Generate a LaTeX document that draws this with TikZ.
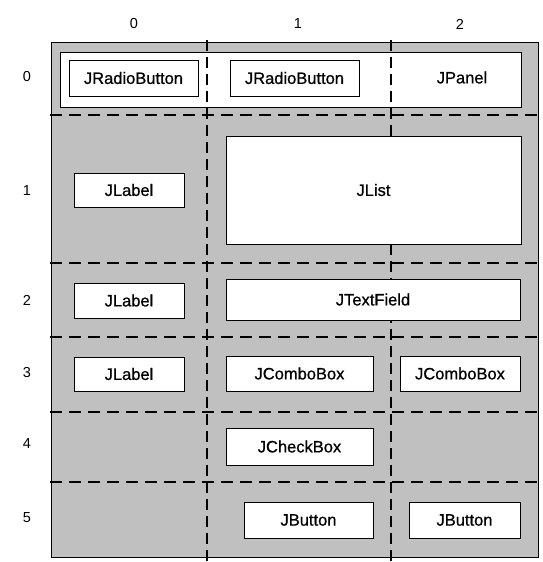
\documentclass[tikz,border=0pt]{standalone}
\usepackage{fontspec}
\setmainfont{Liberation Sans}
\newfontfamily\compfont[FakeBold=0.7]{Liberation Sans}
\begin{document}
\begin{tikzpicture}[x=1pt,y=-1pt,
  comp/.style={draw=black,fill=white,line width=0.9pt,inner sep=0pt,font=\compfont\fontsize{16.5}{18}\selectfont},
  idx/.style={inner sep=0pt,font=\fontsize{14.5}{16}\selectfont},
  hgrid/.style={line width=2pt,dash pattern=on 12pt off 7pt},
  vgrid/.style={line width=2.6pt,dash pattern=on 11pt off 6pt}]
\useasboundingbox (0,0) rectangle (543,562);
% background grey container
\node[draw=black,fill={rgb,255:red,192;green,192;blue,192},line width=0.9pt,inner sep=0pt,
  minimum width=487pt,minimum height=515pt] (grid) at (294.5,299.5) {};
% row 0 panel
\node[comp,minimum width=461pt,minimum height=55pt] (panel) at (290.5,79.5) {};
% dashed grid lines
\coordinate (v1t) at (207,40); \coordinate (v1b) at (207,562);
\coordinate (v2t) at (391,40); \coordinate (v2b) at (391,562);
\draw[vgrid] (v1t) -- (v1b);
\draw[vgrid] (v2t) -- (v2b);
\foreach \yy/\n in {115/a,263/b,337/c,412/d,482/e}{
  \coordinate (h\n l) at (50,\yy); \coordinate (h\n r) at (538,\yy);
  \draw[hgrid] (h\n l) -- (h\n r);
}
% components
\node[comp,minimum width=129pt,minimum height=36pt] (rb1) at (133.5,78) {JRadioButton};
\node[comp,minimum width=129pt,minimum height=36pt] (rb2) at (294.5,78) {JRadioButton};
\node[inner sep=0pt,font=\compfont\fontsize{16.5}{18}\selectfont] (jpanel) at (462,77.5) {JPanel};
\node[comp,minimum width=110pt,minimum height=34pt] (lab1) at (129,190) {JLabel};
\node[comp,minimum width=295pt,minimum height=108pt] (list) at (373.5,190) {JList};
\node[comp,minimum width=110pt,minimum height=35pt] (lab2) at (129,300.5) {JLabel};
\node[comp,minimum width=294pt,minimum height=41pt] (tf) at (373,299.5) {JTextField};
\node[comp,minimum width=110pt,minimum height=34pt] (lab3) at (129,374) {JLabel};
\node[comp,minimum width=147pt,minimum height=35pt] (cb1) at (299.5,373.5) {JComboBox};
\node[comp,minimum width=120pt,minimum height=35pt] (cb2) at (460,373.5) {JComboBox};
\node[comp,minimum width=147pt,minimum height=37pt] (chk) at (299.5,446.5) {JCheckBox};
\node[comp,minimum width=129pt,minimum height=36pt] (bt1) at (308.5,520) {JButton};
\node[comp,minimum width=111pt,minimum height=36pt] (bt2) at (464.5,520) {JButton};
% indices
\node[idx] (c0) at (134,24) {0};
\node[idx] (c1) at (298,24) {1};
\node[idx] (c2) at (460,24) {2};
\node[idx] (r0) at (27,77) {0};
\node[idx] (r1) at (27,191) {1};
\node[idx] (r2) at (27,300) {2};
\node[idx] (r3) at (27,373) {3};
\node[idx] (r4) at (27,444) {4};
\node[idx] (r5) at (27,518) {5};
\end{tikzpicture}
\end{document}
